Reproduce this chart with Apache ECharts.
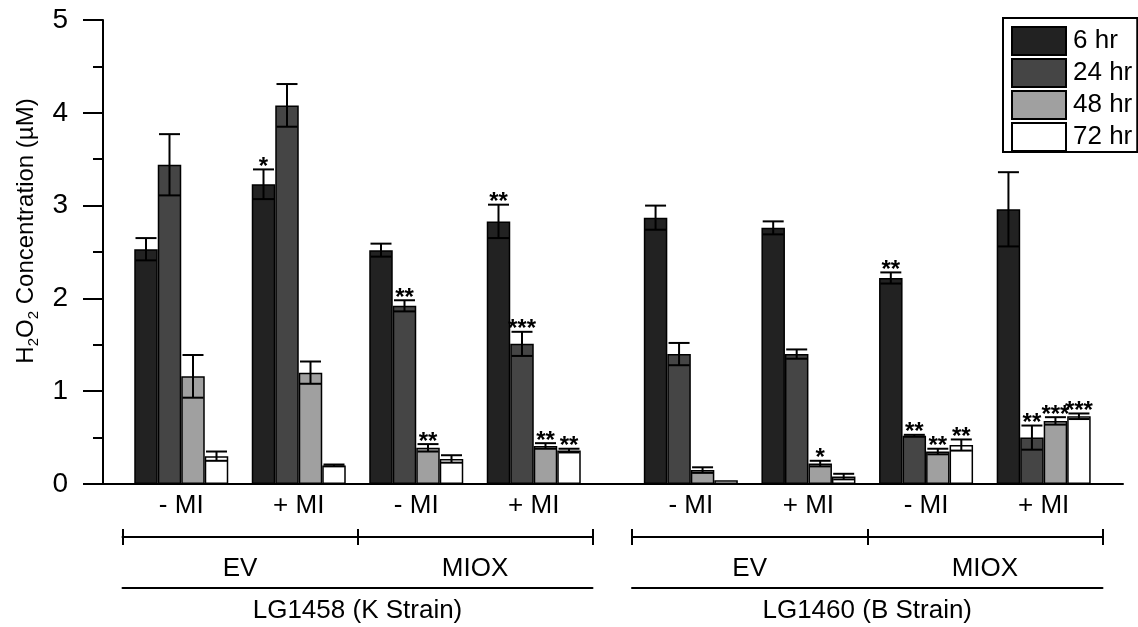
<!DOCTYPE html>
<html>
<head>
<meta charset="utf-8">
<script src="https://cdn.jsdelivr.net/npm/echarts@6/dist/echarts.min.js"></script>
<style>html,body{margin:0;padding:0;background:#fff}#c{width:1138px;height:627px}</style>
</head>
<body>
<div id="c"></div>
<script>
// ---- data ----
const treatments = ['- MI', '+ MI', '- MI', '+ MI', '- MI', '+ MI', '- MI', '+ MI'];
const vectors = ['EV', 'MIOX'];
const strains = ['LG1458 (K Strain)', 'LG1460 (B Strain)'];
const times = ['6 hr', '24 hr', '48 hr', '72 hr'];
const h6  = [2.53, 3.23, 2.52, 2.83, 2.87, 2.76, 2.22, 2.96];
const h24 = [3.44, 4.08, 1.92, 1.51, 1.40, 1.40, 0.52, 0.50];
const h48 = [1.16, 1.20, 0.39, 0.41, 0.15, 0.22, 0.35, 0.68];
const h72 = [0.30, 0.20, 0.27, 0.36, 0.04, 0.08, 0.42, 0.73];
const e6  = [0.12, 0.16, 0.07, 0.18, 0.13, 0.07, 0.06, 0.40];
const e24 = [0.33, 0.23, 0.06, 0.13, 0.12, 0.05, 0.01, 0.13];
const e48 = [0.23, 0.12, 0.04, 0.03, 0.03, 0.03, 0.03, 0.04];
const e72 = [0.05, 0.01, 0.04, 0.02, 0.00, 0.03, 0.06, 0.03];
const s6  = [0, 1, 0, 2, 0, 0, 2, 0];
const s24 = [0, 0, 2, 3, 0, 0, 2, 2];
const s48 = [0, 0, 2, 2, 0, 1, 2, 3];
const s72 = [0, 0, 0, 2, 0, 0, 2, 3];
const yTicks = [0, 1, 2, 3, 4, 5];

// ---- styles ----
const colors = ['#222222', '#454545', '#a0a0a0', '#ffffff'];
const FONT = "'Liberation Sans', Arial, Helvetica, sans-serif";
const BAR_W = 23.5;
const LW = 2;

const vals = [h6, h24, h48, h72];
const errs = [e6, e24, e48, e72];
const sigs = [s6, s24, s48, s72];

const chart = echarts.init(document.getElementById('c'), null, {renderer: 'canvas'});

function blockAxes(gridIndex, part) {
  const cats = treatments.slice(part * 4, part * 4 + 4);
  return [
    {type: 'category', gridIndex, data: cats, position: 'bottom',
      axisLine: {show: false}, axisTick: {show: false},
      axisLabel: {interval: 0, fontSize: 26, color: '#000', fontFamily: FONT, margin: 9}},
    {type: 'category', gridIndex, data: vectors, position: 'bottom', offset: 53,
      axisLine: {show: true, lineStyle: {color: '#000', width: LW}},
      axisTick: {show: true, length: 8, inside: false, lineStyle: {color: '#000', width: LW}},
      axisLabel: {interval: 0, fontSize: 26, color: '#000', fontFamily: FONT, margin: 19}},
    {type: 'category', gridIndex, data: vectors, position: 'bottom', offset: 53,
      axisLine: {show: false},
      axisTick: {show: true, length: 8, inside: true, lineStyle: {color: '#000', width: LW}},
      axisLabel: {show: false}},
    {type: 'category', gridIndex, data: [strains[part]], position: 'bottom', offset: 104,
      axisLine: {show: true, lineStyle: {color: '#000', width: LW}},
      axisTick: {show: false},
      axisLabel: {interval: 0, fontSize: 26, color: '#000', fontFamily: FONT, margin: 10}}
  ];
}

const xAxes = [
  {type: 'value', gridIndex: 0, min: 0, max: 1, show: true,
    axisLine: {show: true, lineStyle: {color: '#000', width: LW}},
    axisTick: {show: false}, axisLabel: {show: false}, splitLine: {show: false}}
].concat(blockAxes(1, 0), blockAxes(2, 1));

const yAxes = [
  {type: 'value', gridIndex: 0, min: yTicks[0], max: yTicks[yTicks.length - 1], interval: 1,
    axisLine: {show: true, lineStyle: {color: '#000', width: LW}},
    axisTick: {show: true, length: 20, lineStyle: {color: '#000', width: LW}},
    minorTick: {show: true, splitNumber: 2, length: 10, lineStyle: {color: '#000', width: LW}},
    splitLine: {show: false},
    axisLabel: {fontSize: 28, color: '#000', fontFamily: FONT, margin: 35},
    name: '{a|H}{s|2}{a|O}{s|2}{a| Concentration (µM)}',
    nameLocation: 'middle', nameGap: 60, nameRotate: 90,
    nameTextStyle: {
      padding: [0, 0, 0, 42],
      rich: {
        a: {fontSize: 24, fontFamily: FONT, color: '#000', lineHeight: 30},
        s: {fontSize: 15, fontFamily: FONT, color: '#000', lineHeight: 12, verticalAlign: 'bottom'}
      }
    }},
  {type: 'value', gridIndex: 1, min: 0, max: 5, show: false},
  {type: 'value', gridIndex: 2, min: 0, max: 5, show: false}
];

const series = [];
[0, 1].forEach(function (part) {
  const xi = part === 0 ? 1 : 5;
  const yi = part + 1;
  times.forEach(function (t, k) {
    series.push({
      type: 'bar', name: t, xAxisIndex: xi, yAxisIndex: yi,
      data: vals[k].slice(part * 4, part * 4 + 4),
      barWidth: BAR_W, barGap: '0%',
      itemStyle: {color: colors[k], borderColor: '#000', borderWidth: 1.5},
      emphasis: {disabled: true}, z: 2
    });
  });
  const ed = [];
  for (let c = 0; c < 4; c++) {
    for (let k = 0; k < 4; k++) {
      const i = part * 4 + c;
      ed.push([c, k, vals[k][i], errs[k][i], sigs[k][i]]);
    }
  }
  series.push({
    type: 'custom', xAxisIndex: xi, yAxisIndex: yi, z: 5, silent: true,
    encode: {x: 0, y: 2},
    data: ed,
    renderItem: function (params, api) {
      const c = api.value(0), k = api.value(1), v = api.value(2), e = api.value(3), n = api.value(4);
      const cx = api.coord([c, 0])[0] + (k - 1.5) * BAR_W;
      const yT = api.coord([c, v + e])[1];
      const yB = api.coord([c, Math.max(v - e, 0)])[1];
      const hw = 10.5;
      const st = {stroke: '#000', lineWidth: LW};
      const ch = [];
      if (e > 0.005) {
        ch.push({type: 'line', shape: {x1: cx, y1: yT, x2: cx, y2: yB}, style: st});
        ch.push({type: 'line', shape: {x1: cx - hw, y1: yT, x2: cx + hw, y2: yT}, style: st});
        ch.push({type: 'line', shape: {x1: cx - hw, y1: yB, x2: cx + hw, y2: yB}, style: st});
      }
      if (n > 0) {
        ch.push({type: 'text', style: {text: '*'.repeat(n), x: cx, y: yT - 2,
          textAlign: 'center', textVerticalAlign: 'middle',
          font: 'bold 24px ' + FONT, fill: '#000'}});
      }
      return {type: 'group', children: ch};
    }
  });
});

chart.setOption({
  animation: false,
  backgroundColor: '#fff',
  grid: [
    {left: 103, right: 15, top: 20, bottom: 143},
    {left: 122.5, right: 545.5, top: 20, bottom: 143},
    {left: 632, right: 35.5, top: 20, bottom: 143}
  ],
  legend: {
    data: times, orient: 'vertical', left: 1003, top: 18,
    icon: 'rect', itemWidth: 54, itemHeight: 28, itemGap: 2,
    borderColor: '#000', borderWidth: 2, padding: [8, 5, 0, 8],
    textStyle: {fontSize: 26, lineHeight: 28, color: '#000', fontFamily: FONT, padding: [0, 0, 0, 2]},
    selectedMode: false
  },
  xAxis: xAxes,
  yAxis: yAxes,
  series: series
});
</script>
</body>
</html>
